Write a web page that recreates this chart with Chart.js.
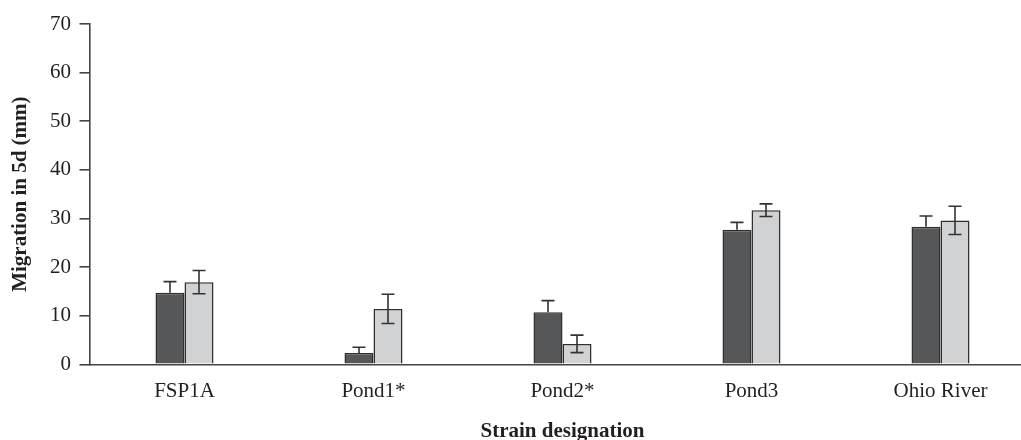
<!DOCTYPE html>
<html>
<head>
<meta charset="utf-8">
<script src="https://cdn.jsdelivr.net/npm/chart.js@4.4.1/dist/chart.umd.min.js"></script>
<style>
  html, body { margin: 0; padding: 0; background: #ffffff; overflow: hidden; width: 1021px; height: 440px; }
  #wrap { position: relative; width: 1035px; height: 440px; }
</style>
</head>
<body>
<div id="wrap"><canvas id="c"></canvas></div>
<script>
const categories = ["FSP1A", "Pond1*", "Pond2*", "Pond3", "Ohio River"];
const seriesA = [14.7, 2.3, 10.7, 27.7, 28.3];
const errorsA = [2.3, 1.2, 2.4, 1.5, 2.2];
const seriesB = [16.9, 11.4, 4.2, 31.7, 29.6];
const errorsB = [2.4, 3.0, 1.8, 1.3, 2.9];
const yTicks = [0, 10, 20, 30, 40, 50, 60, 70];

const FONT = "'Liberation Serif', 'Times New Roman', serif";
const TEXT = '#231f20';

const errorBarPlugin = {
  id: 'errorBars',
  afterDatasetsDraw(chart) {
    const ctx = chart.ctx;
    const y = chart.scales.y;
    chart.data.datasets.forEach((ds, di) => {
      const meta = chart.getDatasetMeta(di);
      meta.data.forEach((bar, i) => {
        const v = ds.data[i];
        const e = ds.errors[i];
        const yTop = y.getPixelForValue(v + e);
        const yBot = ds.plusOnly ? y.getPixelForValue(v) : y.getPixelForValue(v - e);
        const x = bar.x;
        const cap = 6.5;
        ctx.save();
        ctx.strokeStyle = '#333333';
        ctx.lineWidth = 1.6;
        ctx.beginPath();
        ctx.moveTo(x, yTop); ctx.lineTo(x, yBot);
        ctx.moveTo(x - cap, yTop); ctx.lineTo(x + cap, yTop);
        if (!ds.plusOnly) { ctx.moveTo(x - cap, yBot); ctx.lineTo(x + cap, yBot); }
        ctx.stroke();
        ctx.restore();
      });
    });
  }
};

new Chart(document.getElementById('c'), {
  type: 'bar',
  data: {
    labels: categories,
    datasets: [
      { label: 'A', data: seriesA, errors: errorsA, plusOnly: true, backgroundColor: '#555759', borderColor: '#2f2f2f', borderWidth: 1.5, barPercentage: 1.0, categoryPercentage: 0.307 },
      { label: 'B', data: seriesB, errors: errorsB, plusOnly: false, backgroundColor: '#d1d2d4', borderColor: '#2f2f2f', borderWidth: 1.5, barPercentage: 1.0, categoryPercentage: 0.307 }
    ]
  },
  options: {
    responsive: true,
    maintainAspectRatio: false,
    animation: false,
    devicePixelRatio: 1,
    layout: { padding: { top: 24, right: 0, bottom: 0, left: 0 } },
    plugins: { legend: { display: false }, tooltip: { enabled: false } },
    scales: {
      x: {
        type: 'category',
        offset: true,
        grid: { display: false },
        border: { display: true, color: '#444444', width: 1.6 },
        ticks: { color: TEXT, font: { family: FONT, size: 21 }, padding: 7, maxRotation: 0, autoSkip: false },
        title: { display: true, text: 'Strain designation', color: TEXT, font: { family: FONT, size: 21, weight: 'bold', lineHeight: 1 }, padding: { top: 0, bottom: -2 } },
        afterFit(scale) { scale.height = 75.7; }
      },
      y: {
        min: 0,
        max: 70,
        afterBuildTicks(scale) { scale.ticks = yTicks.map(v => ({ value: v })); },
        grid: { display: true, drawOnChartArea: false, drawTicks: true, tickLength: 10.5, color: '#444444', lineWidth: 1.6 },
        border: { display: true, color: '#444444', width: 1.6 },
        ticks: { color: TEXT, font: { family: FONT, size: 21 }, padding: 8.5 },
        title: { display: true, text: 'Migration in 5d (mm)', color: TEXT, font: { family: FONT, size: 21, weight: 'bold', lineHeight: 1 }, padding: { top: 10.5, bottom: 0 } },
        afterFit(scale) { scale.width = 90; }
      }
    }
  },
  plugins: [errorBarPlugin]
});
</script>
</body>
</html>
